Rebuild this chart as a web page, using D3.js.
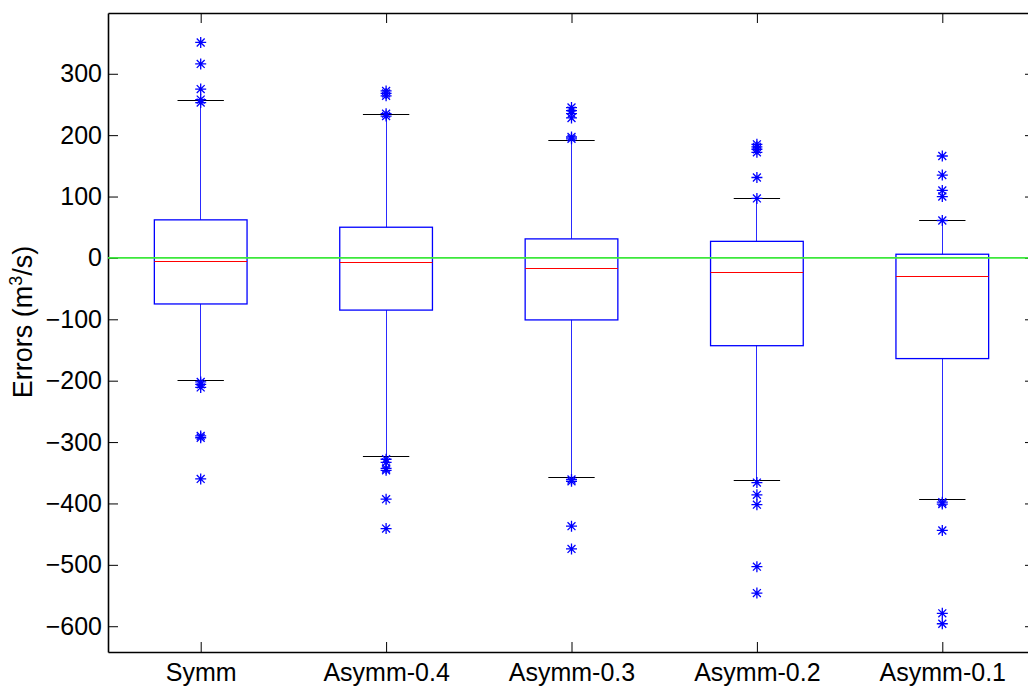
<!DOCTYPE html>
<html>
<head>
<meta charset="utf-8">
<script src="https://cdn.jsdelivr.net/npm/d3@7"></script>
<style>
  body { margin: 0; background: #fff; }
  svg { display: block; }
  text { font-family: "Liberation Sans", Arial, sans-serif; }
</style>
</head>
<body>
<div id="chart"></div>
<script>
/*global d3*/

// box plot statistics (m^3/s)
var categories = ['Symm', 'Asymm-0.4', 'Asymm-0.3', 'Asymm-0.2', 'Asymm-0.1'];
var q3 = [62, 50, 31, 27, 6];
var medians = [-6, -8, -18, -23, -30];
var q1 = [-75, -85, -101, -143, -164];
var upperWhisker = [256, 233, 192, 96, 61];
var lowerWhisker = [-200, -324, -358, -362, -393];
var upperOutliers = [
  [351, 316, 275, 258, 253],
  [272, 268, 264, 235, 231],
  [245, 240, 235, 228, 197, 194],
  [185, 181, 177, 172, 131, 97],
  [166, 135, 110, 100, 61]
];
var lowerOutliers = [
  [-202, -206, -211, -290, -293, -360],
  [-328, -333, -343, -346, -393, -441],
  [-361, -364, -437, -474],
  [-366, -386, -402, -503, -546],
  [-398, -401, -444, -579, -596]
];
var yTicks = [-600, -500, -400, -300, -200, -100, 0, 100, 200, 300];

(function () {
  'use strict';
  var frame = {width: 1028, height: 686},
    plot = {left: 108, right: 1035, top: 13, bottom: 652},
    boxWidth = 0.5,
    capWidth = 0.25,
    xScale = d3.scaleLinear()
      .domain([0.5, 5.5])
      .range([plot.left, plot.right]),
    yScale = d3.scaleLinear()
      .domain([-642, 399])
      .range([plot.bottom, plot.top]),
    positions = categories.map(function (c, i) { return i + 1; }),
    svg,
    group;

  // snap a 1px line onto a pixel centre
  function px(v) { return Math.floor(v) + 0.5; }

  svg = d3.select('#chart')
    .append('svg')
    .attr('width', frame.width)
    .attr('height', frame.height);

  // axes, ticks pointing inward like matlab
  svg.append('g')
    .attr('transform', 'translate(' + plot.left + ',0)')
    .call(d3.axisLeft(yScale).tickValues(yTicks).tickSizeInner(-10).tickSizeOuter(0).tickPadding(6))
    .call(styleAxis);

  svg.append('g')
    .attr('transform', 'translate(' + plot.right + ',0)')
    .call(d3.axisRight(yScale).tickValues(yTicks).tickSizeInner(-10).tickSizeOuter(0).tickFormat(''))
    .call(styleAxis);

  svg.append('g')
    .attr('transform', 'translate(0,' + plot.bottom + ')')
    .call(d3.axisBottom(xScale).tickValues(positions).tickSizeInner(-10).tickSizeOuter(0).tickPadding(11)
      .tickFormat(function (d) { return categories[d - 1]; }))
    .call(styleAxis);

  svg.append('g')
    .attr('transform', 'translate(0,' + plot.top + ')')
    .call(d3.axisTop(xScale).tickValues(positions).tickSizeInner(-10).tickSizeOuter(0).tickFormat(''))
    .call(styleAxis);

  function styleAxis(g) {
    g.select('.domain').attr('stroke', '#000').attr('stroke-width', 1.6);
    g.selectAll('.tick line').attr('stroke', '#000').attr('stroke-width', 1);
    g.selectAll('.tick text')
      .attr('fill', '#000')
      .style('font-size', '25px')
      .style('font-family', '"Liberation Sans", Arial, sans-serif');
  }

  // y label
  var label = svg.append('text')
    .attr('text-anchor', 'middle')
    .attr('transform', 'translate(32,322) rotate(-90)')
    .style('font-size', '27px')
    .attr('fill', '#000');
  label.append('tspan').text('Errors (m');
  label.append('tspan').attr('dy', -10).style('font-size', '18px').text('3');
  label.append('tspan').attr('dy', 10).text('/s)');

  group = svg.append('g');

  var idx = d3.range(categories.length);

  // whiskers
  [[q3, upperWhisker], [q1, lowerWhisker]].forEach(function (pair) {
    group.selectAll(null)
      .data(idx)
      .enter()
      .append('line')
      .attr('x1', function (i) { return px(xScale(positions[i])); })
      .attr('x2', function (i) { return px(xScale(positions[i])); })
      .attr('y1', function (i) { return yScale(pair[0][i]); })
      .attr('y2', function (i) { return yScale(pair[1][i]); })
      .attr('stroke', '#2a2aff')
      .attr('stroke-width', 1);
  });

  // caps
  [upperWhisker, lowerWhisker].forEach(function (arr) {
    group.selectAll(null)
      .data(idx)
      .enter()
      .append('line')
      .attr('x1', function (i) { return xScale(positions[i] - capWidth / 2); })
      .attr('x2', function (i) { return xScale(positions[i] + capWidth / 2); })
      .attr('y1', function (i) { return px(yScale(arr[i])); })
      .attr('y2', function (i) { return px(yScale(arr[i])); })
      .attr('stroke', '#000')
      .attr('stroke-width', 1.2);
  });

  // boxes
  group.selectAll('.box')
    .data(idx)
    .enter()
    .append('rect')
    .attr('x', function (i) { return xScale(positions[i] - boxWidth / 2); })
    .attr('width', function (i) { return xScale(positions[i] + boxWidth / 2) - xScale(positions[i] - boxWidth / 2); })
    .attr('y', function (i) { return yScale(q3[i]); })
    .attr('height', function (i) { return yScale(q1[i]) - yScale(q3[i]); })
    .attr('fill', 'none')
    .attr('stroke', '#0000ff')
    .attr('stroke-width', 1.3);

  // medians
  group.selectAll('.median')
    .data(idx)
    .enter()
    .append('line')
    .attr('x1', function (i) { return xScale(positions[i] - boxWidth / 2); })
    .attr('x2', function (i) { return xScale(positions[i] + boxWidth / 2); })
    .attr('y1', function (i) { return px(yScale(medians[i])); })
    .attr('y2', function (i) { return px(yScale(medians[i])); })
    .attr('stroke', '#ff0000')
    .attr('stroke-width', 1);

  // zero reference line
  svg.append('line')
    .attr('x1', plot.left)
    .attr('x2', plot.right)
    .attr('y1', yScale(0))
    .attr('y2', yScale(0))
    .attr('stroke', '#3ce83c')
    .attr('stroke-width', 1.6);

  // outliers as matlab asterisks
  var r = 5.5, d = r * 0.72;
  var star = 'M' + (-r) + ',0H' + r + 'M0,' + (-r) + 'V' + r +
    'M' + (-d) + ',' + (-d) + 'L' + d + ',' + d +
    'M' + (-d) + ',' + d + 'L' + d + ',' + (-d);
  var points = [];
  idx.forEach(function (i) {
    upperOutliers[i].concat(lowerOutliers[i]).forEach(function (v) {
      points.push({pos: positions[i], value: v});
    });
  });

  group.selectAll('.outlier')
    .data(points)
    .enter()
    .append('path')
    .attr('d', star)
    .attr('transform', function (p) {
      return 'translate(' + xScale(p.pos) + ',' + yScale(p.value) + ')';
    })
    .attr('fill', 'none')
    .attr('stroke', '#0000ff')
    .attr('stroke-width', 1.3);
})();
</script>
</body>
</html>
